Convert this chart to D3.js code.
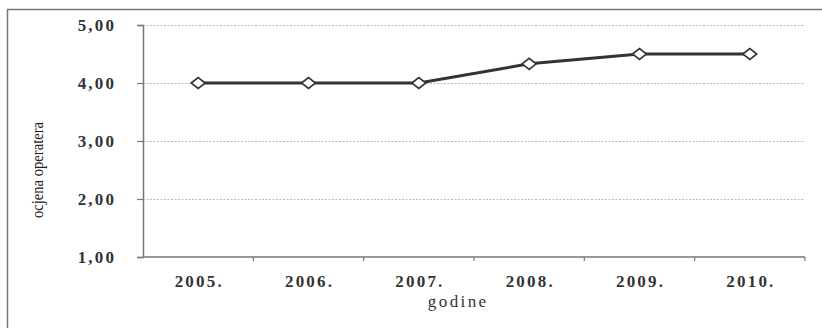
<!DOCTYPE html>
<html>
<head>
<meta charset="utf-8">
<script src="https://cdn.jsdelivr.net/npm/d3@7"></script>
<style>
  html, body { margin: 0; padding: 0; background: #fff; }
  svg { display: block; }
</style>
</head>
<body>
<svg id="chart" width="822" height="328"></svg>
<script>
// Ocjena operatera po godinama
const years = ["2005.", "2006.", "2007.", "2008.", "2009.", "2010."];
const ratings = [4.00, 4.00, 4.00, 4.33, 4.50, 4.50];
const yTicks = [1, 2, 3, 4, 5];

const svg = d3.select("#chart");
const W = 822, H = 328;
const m = { left: 143, right: 17, top: 25, bottom: 71 };
const FONT = "'Liberation Serif', 'Times New Roman', serif";
const LS = 2.2; // letter spacing of tick labels

// outer frame (left and top edges visible)
svg.append("path")
  .attr("d", `M7.5,${H} L7.5,9.5 L${W},9.5`)
  .attr("fill", "none")
  .attr("stroke", "#777")
  .attr("stroke-width", 1.5);

const x = d3.scaleBand()
  .domain(years)
  .range([m.left, W - m.right]);

const y = d3.scaleLinear()
  .domain([1, 5])
  .range([H - m.bottom, m.top]);

const fmt = d => d3.format(".2f")(d).replace(".", ",");

// gridlines
svg.append("g")
  .selectAll("line")
  .data(yTicks.filter(t => t > 1))
  .join("line")
  .attr("x1", m.left)
  .attr("x2", W - m.right)
  .attr("y1", d => Math.round(y(d)) + 0.5)
  .attr("y2", d => Math.round(y(d)) + 0.5)
  .attr("stroke", "#bbb")
  .attr("stroke-width", 1)
  .attr("stroke-dasharray", "2,1.5");

// y axis
const yAxis = svg.append("g")
  .attr("transform", `translate(${m.left},0)`)
  .call(d3.axisLeft(y).tickValues(yTicks).tickFormat(fmt).tickSize(6).tickPadding(23 - LS));
yAxis.select(".domain").attr("stroke", "#777").attr("stroke-width", 1.5);
yAxis.selectAll(".tick line").attr("stroke", "#777").attr("stroke-width", 1.2);
yAxis.selectAll("text")
  .attr("font-family", FONT)
  .attr("font-weight", "bold")
  .attr("font-size", 17)
  .attr("letter-spacing", LS)
  .attr("fill", "#333");

// x axis with ticks at category boundaries
const xAxisG = svg.append("g")
  .attr("transform", `translate(0,${y(1)})`);
xAxisG.append("line")
  .attr("x1", m.left).attr("x2", W - m.right)
  .attr("stroke", "#777").attr("stroke-width", 1.5);
const bounds = years.map(d => x(d) + x.bandwidth());
xAxisG.selectAll("line.tk")
  .data(bounds)
  .join("line")
  .attr("class", "tk")
  .attr("x1", d => d).attr("x2", d => d)
  .attr("y1", 0).attr("y2", 4)
  .attr("stroke", "#777").attr("stroke-width", 1.2);
xAxisG.selectAll("text")
  .data(years)
  .join("text")
  .attr("x", d => x(d) + x.bandwidth() / 2 + LS / 2)
  .attr("y", 30)
  .attr("text-anchor", "middle")
  .attr("font-family", FONT)
  .attr("font-weight", "bold")
  .attr("font-size", 17)
  .attr("letter-spacing", LS)
  .attr("fill", "#333")
  .text(d => d);

// axis titles
svg.append("text")
  .attr("x", 457 + 1.2)
  .attr("y", 307)
  .attr("text-anchor", "middle")
  .attr("font-family", FONT)
  .attr("font-size", 17)
  .attr("letter-spacing", 2.4)
  .attr("fill", "#333")
  .text("godine");

svg.append("text")
  .attr("transform", "translate(43,170) rotate(-90)")
  .attr("text-anchor", "middle")
  .attr("font-family", FONT)
  .attr("font-size", 17)
  .attr("fill", "#222")
  .attr("textLength", 96)
  .attr("lengthAdjust", "spacingAndGlyphs")
  .text("ocjena operatera");

// series line
const pts = years.map((d, i) => [x(d) + x.bandwidth() / 2, y(ratings[i])]);
svg.append("path")
  .attr("d", d3.line()(pts))
  .attr("fill", "none")
  .attr("stroke", "#333")
  .attr("stroke-width", 3);

// diamond markers
svg.append("g")
  .selectAll("path")
  .data(pts)
  .join("path")
  .attr("d", ([px, py]) => `M${px - 7},${py} L${px},${py - 5.5} L${px + 7},${py} L${px},${py + 5.5} Z`)
  .attr("fill", "#fff")
  .attr("stroke", "#333")
  .attr("stroke-width", 1.6);
</script>
</body>
</html>
